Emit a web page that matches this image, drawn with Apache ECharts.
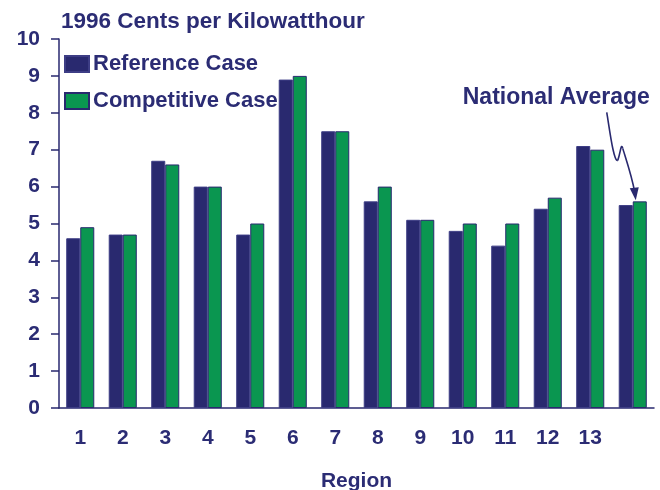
<!DOCTYPE html>
<html>
<head>
<meta charset="utf-8">
<script src="https://cdn.jsdelivr.net/npm/echarts@6/dist/echarts.min.js"></script>
<style>html,body{margin:0;padding:0;background:#fff}#c{width:660px;height:490px}</style>
</head>
<body>
<div id="c"></div>
<script>
const categories = ['1','2','3','4','5','6','7','8','9','10','11','12','13',''];
const referenceCase = [4.6,4.7,6.7,6.0,4.7,8.9,7.5,5.6,5.1,4.8,4.4,5.4,7.1,5.5];
const competitiveCase = [4.9,4.7,6.6,6.0,5.0,9.0,7.5,6.0,5.1,5.0,5.0,5.7,7.0,5.6];
const yTicks = [0,1,2,3,4,5,6,7,8,9,10];

const NAVY = '#29296f';
const GREEN = '#0a9650';
const TXT = '#2b2c74';
const FONT = '"Liberation Sans", Arial, sans-serif';

const chart = echarts.init(document.getElementById('c'));
chart.setOption({
  animation: false,
  backgroundColor: '#fff',
  textStyle: {fontFamily: FONT},
  title: {
    text: '1996 Cents per Kilowatthour',
    left: 56, top: 5,
    textStyle: {color: TXT, fontSize: 22.5, fontWeight: 'bold', fontFamily: FONT}
  },
  legend: {
    orient: 'vertical', left: 64, top: 53, padding: 0,
    icon: 'rect',
    itemWidth: 24, itemHeight: 16, itemGap: 15,
    textStyle: {color: TXT, fontSize: 22, fontWeight: 'bold', fontFamily: FONT, padding: [0,0,0,-1]},
    data: ['Reference Case','Competitive Case']
  },
  grid: {left: 59, right: 6, top: 39, bottom: 82, containLabel: false, outerBoundsMode: 'none'},
  xAxis: {
    type: 'category', data: categories,
    name: 'Region', nameLocation: 'middle', nameGap: 63,
    nameTextStyle: {color: TXT, fontSize: 21, fontWeight: 'bold', fontFamily: FONT},
    axisLine: {lineStyle: {color: NAVY, width: 1.5}},
    axisTick: {alignWithLabel: true, length: 8, lineStyle: {color: NAVY, width: 1.5}},
    axisLabel: {color: TXT, fontSize: 21, fontWeight: 'bold', margin: 20, interval: 0, fontFamily: FONT}
  },
  yAxis: {
    type: 'value', min: yTicks[0], max: yTicks[yTicks.length-1], interval: 1,
    splitLine: {show: false},
    axisLine: {show: true, lineStyle: {color: NAVY, width: 1.5}},
    axisTick: {show: true, length: 8, lineStyle: {color: NAVY, width: 1.5}},
    axisLabel: {color: TXT, fontSize: 21, fontWeight: 'bold', margin: 19, fontFamily: FONT}
  },
  series: [
    {name: 'Reference Case', type: 'bar', data: referenceCase, barGap: '0%', barCategoryGap: '34%',
     itemStyle: {color: NAVY, borderColor: '#3d3d85', borderWidth: 1}},
    {name: 'Competitive Case', type: 'bar', data: competitiveCase,
     itemStyle: {color: GREEN, borderColor: NAVY, borderWidth: 1}}
  ]
});

// National Average annotation anchored on last category's competitive bar
const lastIdx = categories.length - 1;
const p = chart.convertToPixel({xAxisIndex: 0, yAxisIndex: 0}, [lastIdx, competitiveCase[lastIdx]]);
const tipX = p[0] + 2, tipY = p[1] - 1;
const seg = (x1,y1,cx1,cy1,cx2,cy2,x2,y2) => ({
  type: 'bezierCurve', silent: true,
  shape: {x1: tipX+x1, y1: tipY+y1, cpx1: tipX+cx1, cpy1: tipY+cy1, cpx2: tipX+cx2, cpy2: tipY+cy2, x2: tipX+x2, y2: tipY+y2},
  style: {fill: null, stroke: NAVY, lineWidth: 1.6}
});
chart.setOption({
  graphic: [
    {type: 'text', x: tipX - 172, y: tipY - 114, silent: true,
     style: {text: 'National Average', fill: TXT, font: 'bold 23px ' + FONT}},
    seg(-28,-88, -25,-70, -21,-38, -17,-40),
    seg(-17,-40, -14,-48, -14,-58, -12,-52),
    seg(-12,-52, -10,-45, -3,-25, 0,-8),
    {type: 'polygon', silent: true, shape: {points: [[tipX-5, tipY-12],[tipX+4, tipY-13],[tipX+1, tipY]]},
     style: {fill: NAVY}}
  ]
});
</script>
</body>
</html>
